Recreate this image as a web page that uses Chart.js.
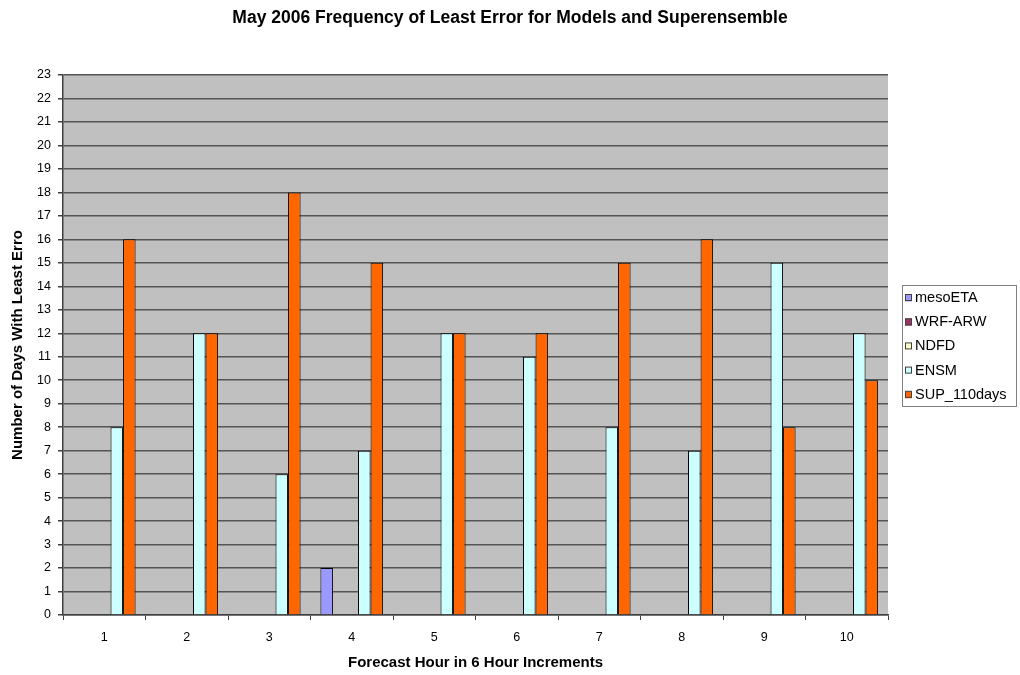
<!DOCTYPE html>
<html>
<head>
<meta charset="utf-8">
<script src="https://cdn.jsdelivr.net/npm/chart.js@4/dist/chart.umd.min.js"></script>
<style>
  html, body { margin: 0; padding: 0; background: #ffffff; }
  #wrap { width: 1020px; height: 675px; position: relative; }
</style>
</head>
<body>
<div id="wrap"><canvas id="chart" width="1020" height="675"></canvas></div>
<script>
// Forecast hours (6-hour increments)
const categories = ['1', '2', '3', '4', '5', '6', '7', '8', '9', '10'];

// Days with least error per model
const mesoETA    = [0, 0, 0, 2, 0, 0, 0, 0, 0, 0];
const wrfArw     = [0, 0, 0, 0, 0, 0, 0, 0, 0, 0];
const ndfd       = [0, 0, 0, 0, 0, 0, 0, 0, 0, 0];
const ensm       = [8, 12, 6, 7, 12, 11, 8, 7, 15, 12];
const sup110days = [16, 12, 18, 15, 12, 12, 15, 16, 8, 10];

const seriesNames  = ['mesoETA', 'WRF-ARW', 'NDFD', 'ENSM', 'SUP_110days'];
const seriesColors = ['#9999ff', '#993366', '#ffffcc', '#ccffff', '#ff6600'];
const seriesData   = [mesoETA, wrfArw, ndfd, ensm, sup110days];

const yTicks = { min: 0, max: 23, step: 1 };

const FONT = '"Liberation Sans", Arial, sans-serif';

// Grey plotting area behind the bars
const plotBackground = {
  id: 'plotBackground',
  beforeDraw(chart) {
    const { ctx, chartArea: a } = chart;
    ctx.save();
    ctx.fillStyle = '#c0c0c0';
    ctx.fillRect(a.left, a.top, a.right - a.left, a.bottom - a.top);
    ctx.restore();
  }
};

// Boxed legend to the right of the plot
const boxedLegend = {
  id: 'boxedLegend',
  afterDraw(chart) {
    const { ctx } = chart;
    const x0 = 902, y0 = 285, w = 115, h = 122;
    ctx.save();
    ctx.fillStyle = '#ffffff';
    ctx.fillRect(x0, y0, w, h);
    ctx.strokeStyle = '#808080';
    ctx.lineWidth = 1;
    ctx.strokeRect(x0 + 0.5, y0 + 0.5, w - 1, h - 1);
    ctx.font = '14.5px ' + FONT;
    ctx.textBaseline = 'middle';
    chart.data.datasets.forEach((ds, i) => {
      const cy = y0 + 13 + i * 24.2;
      ctx.fillStyle = ds.backgroundColor;
      ctx.fillRect(x0 + 3, cy - 3.5, 7, 7);
      ctx.strokeStyle = '#404040';
      ctx.strokeRect(x0 + 3.5, cy - 3.5, 6, 6);
      ctx.fillStyle = '#000000';
      ctx.fillText(ds.label, x0 + 13, cy);
    });
    ctx.restore();
  }
};

new Chart(document.getElementById('chart'), {
  type: 'bar',
  data: {
    labels: categories,
    datasets: seriesNames.map((name, i) => ({
      label: name,
      data: seriesData[i],
      backgroundColor: seriesColors[i],
      borderColor: '#000000',
      borderWidth: (c) => (c.raw ? 1 : 0),
      borderSkipped: 'start',
      categoryPercentage: 0.76,
      barPercentage: 1.0
    }))
  },
  options: {
    responsive: false,
    animation: false,
    devicePixelRatio: 1,
    layout: { padding: 0 },
    plugins: {
      legend: { display: false },
      tooltip: { enabled: false },
      title: {
        display: true,
        text: 'May 2006 Frequency of Least Error for Models and Superensemble',
        color: '#000000',
        font: { family: FONT, size: 17.5, weight: 'bold' },
        padding: { top: 8, bottom: 46 }
      }
    },
    scales: {
      x: {
        afterFit(scale) { scale.height = 60; },
        grid: {
          offset: true,
          drawOnChartArea: false,
          drawTicks: true,
          tickLength: 5,
          color: '#404040',
          lineWidth: 1
        },
        border: { display: true, color: '#404040', width: 1.5 },
        ticks: {
          color: '#000000',
          font: { family: FONT, size: 12.5 },
          padding: 10
        },
        title: {
          display: true,
          text: 'Forecast Hour in 6 Hour Increments',
          color: '#000000',
          font: { family: FONT, size: 15, weight: 'bold' },
          padding: { top: 0, bottom: 3 }
        }
      },
      y: {
        min: yTicks.min,
        max: yTicks.max,
        afterFit(scale) { scale.width = 63; },
        grid: {
          color: '#555555',
          lineWidth: 1.5,
          drawTicks: true,
          tickLength: 5,
          tickColor: '#404040'
        },
        border: { display: true, color: '#404040', width: 1.5 },
        ticks: {
          stepSize: yTicks.step,
          color: '#000000',
          font: { family: FONT, size: 12.5 },
          padding: 7
        },
        title: {
          display: true,
          text: 'Number of Days With Least Erro',
          color: '#000000',
          font: { family: FONT, size: 15, weight: 'bold' },
          padding: { top: 9, bottom: 0 }
        }
      },
      // Empty right-hand strip that leaves room for the legend box
      legendSpace: {
        type: 'linear',
        position: 'right',
        afterFit(scale) { scale.width = 132; },
        grid: { display: false },
        border: { display: false },
        ticks: { display: false }
      }
    }
  },
  plugins: [plotBackground, boxedLegend]
});
</script>
</body>
</html>
